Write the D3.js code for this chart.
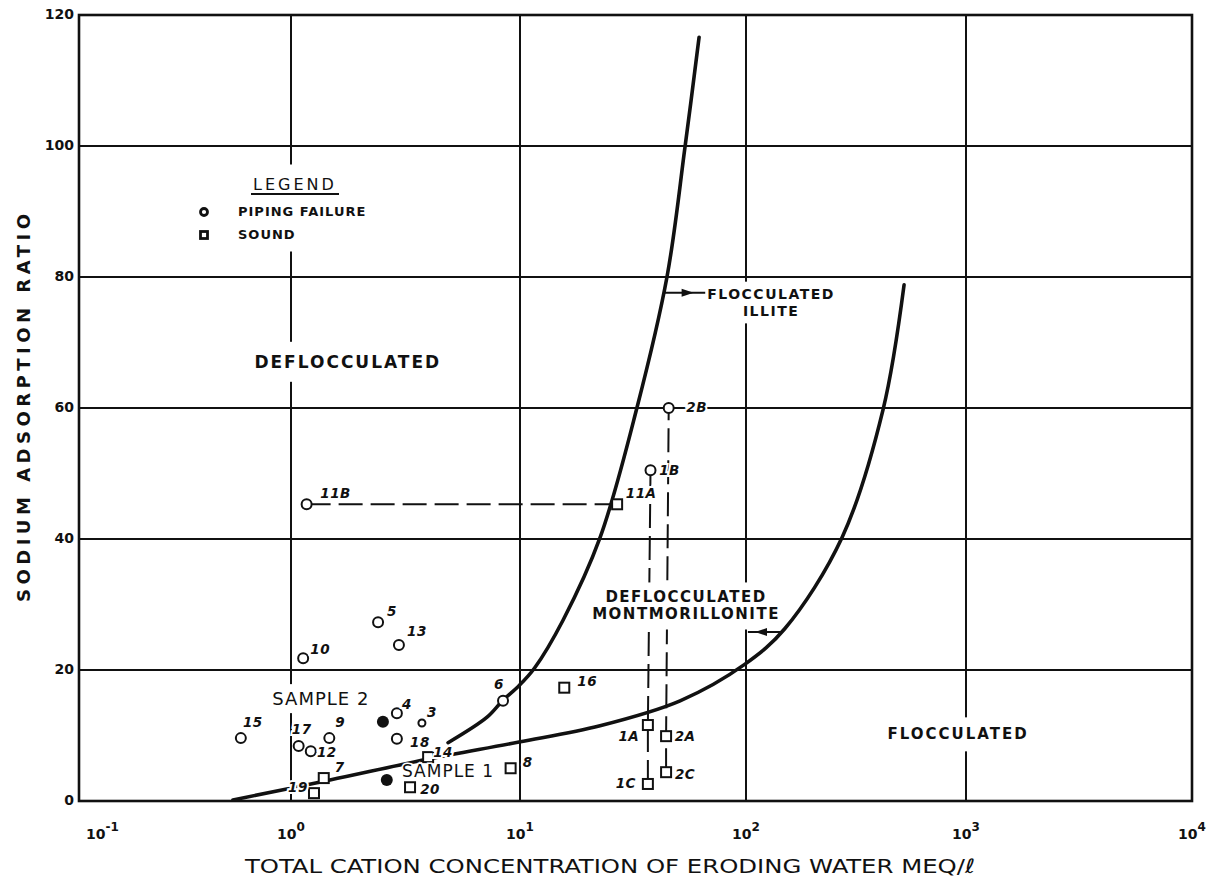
<!DOCTYPE html>
<html>
<head>
<meta charset="utf-8">
<script src="https://cdn.jsdelivr.net/npm/d3@7"></script>
<style>
  body { margin: 0; background: #fff; }
  svg { display: block; }
  text { font-family: "DejaVu Sans", sans-serif; fill: #111; }
</style>
</head>
<body>
<svg id="chart"></svg>
<script>
const WIDTH = 1226;
const HEIGHT = 894;

// piping failure points (open circles)
const failNames = ["5", "13", "10", "6", "4", "3", "15", "9", "17", "12", "18", "11B", "1B", "2B"];
const failX = [2.40, 2.96, 1.13, 8.43, 2.90, 3.73, 0.58, 1.47, 1.08, 1.22, 2.90, 1.17, 37.8, 45.5];
const failY = [27.3, 23.8, 21.8, 15.3, 13.4, 11.9, 9.6, 9.6, 8.4, 7.6, 9.5, 45.3, 50.5, 60.0];

// sound points (open squares)
const soundNames = ["14", "7", "20", "19", "8", "16", "11A", "1A", "2A", "1C", "2C"];
const soundX = [3.97, 1.39, 3.31, 1.26, 9.1, 15.7, 26.9, 36.8, 44.3, 36.8, 44.3];
const soundY = [6.7, 3.5, 2.1, 1.2, 5.0, 17.3, 45.3, 11.6, 9.9, 2.6, 4.4];

// the two filled samples
const sampleNames = ["SAMPLE 1", "SAMPLE 2"];
const sampleX = [2.62, 2.52];
const sampleY = [3.2, 12.1];

// dashed links between related points
const links = [["11B", "11A"], ["1C", "1A", "1B"], ["2C", "2A", "2B"]];

// boundary curves
const illiteX = [4.85, 7.18, 8.43, 9.9, 11.6, 15.5, 22.6, 32.9, 44.7, 53.7, 62.0];
const illiteY = [8.9, 12.8, 15.4, 17.6, 20.3, 27.6, 40.2, 60.0, 80.0, 99.8, 116.6];
const montX = [0.532, 1.48, 3.97, 9.9, 22.6, 51.1, 99, 150, 273, 420, 523];
const montY = [0.15, 3.2, 6.4, 9.0, 11.5, 15.3, 20.9, 26.3, 40.2, 59.8, 78.8];

// axes
const xTicks = [0.1, 1, 10, 100, 1000, 10000];
const xTickExp = ["-1", "0", "1", "2", "3", "4"];
const yTicks = [0, 20, 40, 60, 80, 100, 120];

// label placement (pixels from the mark)
const labelOffset = {
  "5": [14, -10], "13": [18, -13], "10": [17, -8], "6": [-4, -16], "4": [10, -8],
  "3": [10, -10], "15": [12, -15], "9": [11, -15], "17": [3, -16], "12": [16, 2],
  "18": [23, 4], "11B": [29, -10], "1B": [19, 1], "2B": [28, 0],
  "14": [15, -4], "7": [16, -10], "20": [20, 3], "19": [-16, -5], "8": [17, -5],
  "16": [23, -6], "11A": [24, -10], "1A": [-19, 12], "2A": [19, 1], "1C": [-22, 0], "2C": [19, 3]
};

const svg = d3.select('#chart').attr('width', WIDTH).attr('height', HEIGHT);

const x = d3.scaleLog()
  .domain(xTicks)
  .range([79, 291, 520, 746, 966, 1192]);
const y = d3.scaleLinear().domain([0, 120]).range([801, 15]);

const gridLayer = svg.append('g');
const dashLayer = svg.append('g');
const textLayer = svg.append('g');
const curveLayer = svg.append('g');
const pointLayer = svg.append('g');
const labelLayer = svg.append('g');

// grid
gridLayer.selectAll('.vg').data(xTicks.slice(1, -1)).enter().append('line')
  .attr('x1', d => x(d)).attr('x2', d => x(d))
  .attr('y1', y(0)).attr('y2', y(120))
  .attr('stroke', '#111').attr('stroke-width', 2);
gridLayer.selectAll('.hg').data(yTicks.slice(1, -1)).enter().append('line')
  .attr('x1', x(0.1)).attr('x2', x(10000))
  .attr('y1', d => y(d)).attr('y2', d => y(d))
  .attr('stroke', '#111').attr('stroke-width', 2);
gridLayer.append('rect')
  .attr('x', x(0.1)).attr('y', y(120))
  .attr('width', x(10000) - x(0.1)).attr('height', y(0) - y(120))
  .attr('fill', 'none').attr('stroke', '#111').attr('stroke-width', 2.6);

// tick labels
gridLayer.selectAll('.yt').data(yTicks).enter().append('text')
  .attr('x', x(0.1) - 5).attr('y', d => y(d))
  .attr('text-anchor', 'end').attr('dominant-baseline', 'middle')
  .style('font-size', '14px').style('font-weight', 'bold')
  .text(d => d);

const xt = gridLayer.selectAll('.xt').data(xTicks).enter().append('text')
  .attr('x', (d, i) => i === 0 ? x(d) + 7 : x(d))
  .attr('y', 839)
  .attr('text-anchor', (d, i) => i === 0 ? 'start' : 'middle')
  .style('font-size', '14px').style('font-weight', 'bold');
xt.append('tspan').text('10');
xt.append('tspan').attr('dy', -8).style('font-size', '12px').text((d, i) => xTickExp[i]);

// axis titles
svg.append('text')
  .attr('x', 610).attr('y', 873)
  .attr('text-anchor', 'middle')
  .attr('textLength', 730).attr('lengthAdjust', 'spacingAndGlyphs')
  .style('font-family', '"DejaVu Sans Condensed", "Liberation Sans Narrow", sans-serif')
  .style('font-size', '20px')
  .text('TOTAL CATION CONCENTRATION OF ERODING WATER MEQ/ℓ');

svg.append('text')
  .attr('transform', 'translate(30,408) rotate(-90)')
  .attr('text-anchor', 'middle')
  .attr('textLength', 388).attr('lengthAdjust', 'spacing')
  .style('font-size', '18px').style('font-weight', 'bold')
  .text('SODIUM ADSORPTION RATIO');

// lookup for points by name
const pos = {};
failNames.forEach((n, i) => pos[n] = [failX[i], failY[i]]);
soundNames.forEach((n, i) => pos[n] = [soundX[i], soundY[i]]);

// dashed links
const lineGen = d3.line().x(d => x(d[0])).y(d => y(d[1]));
dashLayer.selectAll('path').data(links).enter().append('path')
  .attr('d', d => lineGen(d.map(n => pos[n])))
  .attr('fill', 'none').attr('stroke', '#111')
  .attr('stroke-width', 2).attr('stroke-dasharray', '24,8');

// region labels with white knockouts
function knockout(g, px, py) {
  const b = g.node().getBBox();
  g.insert('rect', ':first-child')
    .attr('x', b.x - px).attr('y', b.y - py)
    .attr('width', b.width + 2 * px).attr('height', b.height + 2 * py)
    .attr('fill', '#fff');
}

function regionText(lines, xv, size, weight, spacing, px, py) {
  const g = textLayer.append('g');
  lines.forEach(l => {
    g.append('text')
      .attr('x', x(xv)).attr('y', y(l.y))
      .attr('text-anchor', 'middle').attr('dominant-baseline', 'middle')
      .style('font-size', size + 'px').style('font-weight', weight)
      .style('letter-spacing', spacing + 'px')
      .text(l.t);
  });
  knockout(g, px, py);
  return g;
}

regionText([{ t: 'DEFLOCCULATED', y: 66.9 }], 1.77, 17, 'bold', 2, 4, 10);
regionText([{ t: 'FLOCCULATED', y: 10.1 }], 920, 15, 'bold', 2, 4, 8);
regionText([{ t: 'FLOCCULATED', y: 77.3 }, { t: 'ILLITE', y: 74.6 }], 130, 14, 'bold', 1.5, 3, 4);
regionText([{ t: 'DEFLOCCULATED', y: 31.0 }, { t: 'MONTMORILLONITE', y: 28.4 }], 54.3, 15, 'bold', 1.5, 3, 6);
regionText([{ t: sampleNames[1], y: 15.4 }], 1.35, 18, 'normal', 1, 2, 4);

// legend
const legend = textLayer.append('g').attr('transform', 'translate(204,185)');
legend.append('text')
  .attr('x', 91).attr('y', 0)
  .attr('text-anchor', 'middle').attr('dominant-baseline', 'middle')
  .style('font-size', '16px').style('letter-spacing', '3px')
  .text('LEGEND');
legend.append('line')
  .attr('x1', 47).attr('x2', 135).attr('y1', 9).attr('y2', 9)
  .attr('stroke', '#111').attr('stroke-width', 2);
legend.append('circle').attr('cx', 0).attr('cy', 27).attr('r', 3.5)
  .attr('fill', 'none').attr('stroke', '#111').attr('stroke-width', 2.8);
legend.append('rect').attr('x', -3.5).attr('y', 46.5).attr('width', 7).attr('height', 7)
  .attr('fill', 'none').attr('stroke', '#111').attr('stroke-width', 2.8);
legend.append('text').attr('x', 34).attr('y', 27).attr('dominant-baseline', 'middle')
  .style('font-size', '13px').style('font-weight', 'bold').style('letter-spacing', '1px')
  .text('PIPING FAILURE');
legend.append('text').attr('x', 34).attr('y', 50).attr('dominant-baseline', 'middle')
  .style('font-size', '13px').style('font-weight', 'bold').style('letter-spacing', '1px')
  .text('SOUND');
knockout(legend, 10, 10);

// boundary curves
const curveGen = d3.line().x(d => x(d[0])).y(d => y(d[1])).curve(d3.curveCatmullRom.alpha(0.5));
curveLayer.append('path')
  .attr('d', curveGen(illiteX.map((v, i) => [v, illiteY[i]])))
  .attr('fill', 'none').attr('stroke', '#111').attr('stroke-width', 3.6).attr('stroke-linecap', 'round');
curveLayer.append('path')
  .attr('d', curveGen(montX.map((v, i) => [v, montY[i]])))
  .attr('fill', 'none').attr('stroke', '#111').attr('stroke-width', 3.6).attr('stroke-linecap', 'round');

// arrows pointing at the curves
const arrows = [
  { yv: 77.6, from: 43.4, to: 66, dir: 1 },
  { yv: 25.8, from: 102, to: 146, dir: -1 }
];
arrows.forEach(a => {
  const x0 = x(a.from), x1 = x(a.to), yy = y(a.yv);
  curveLayer.append('line').attr('x1', x0).attr('x2', x1).attr('y1', yy).attr('y2', yy)
    .attr('stroke', '#111').attr('stroke-width', 2);
  const mid = (x0 + x1) / 2 + (a.dir > 0 ? 2 : -3);
  const tip = mid + a.dir * 7, base = mid - a.dir * 5;
  curveLayer.append('path')
    .attr('d', `M${tip},${yy}L${base},${yy - 4}L${base},${yy + 4}Z`)
    .attr('fill', '#111');
});

// points
const failData = failNames.map((n, i) => ({ n, x: failX[i], y: failY[i] }));
const soundData = soundNames.map((n, i) => ({ n, x: soundX[i], y: soundY[i] }));

pointLayer.selectAll('.fail').data(failData).enter().append('circle')
  .attr('cx', d => x(d.x)).attr('cy', d => y(d.y))
  .attr('r', d => d.n === '3' ? 3.5 : 5)
  .attr('fill', '#fff').attr('stroke', '#111').attr('stroke-width', 2);

pointLayer.selectAll('.sound').data(soundData).enter().append('rect')
  .attr('x', d => x(d.x) - 5).attr('y', d => y(d.y) - 5)
  .attr('width', 10).attr('height', 10)
  .attr('fill', '#fff').attr('stroke', '#111').attr('stroke-width', 2);

pointLayer.selectAll('.sample').data(sampleX).enter().append('circle')
  .attr('cx', d => x(d)).attr('cy', (d, i) => y(sampleY[i]))
  .attr('r', 6).attr('fill', '#111');

// point labels
labelLayer.selectAll('text').data(failData.concat(soundData)).enter().append('text')
  .attr('x', d => x(d.x) + labelOffset[d.n][0])
  .attr('y', d => y(d.y) + labelOffset[d.n][1])
  .attr('text-anchor', 'middle').attr('dominant-baseline', 'middle')
  .style('font-size', '13.5px').style('font-weight', 'bold').style('font-style', 'italic')
  .style('letter-spacing', '0.5px')
  .attr('stroke', '#fff').attr('stroke-width', 4).attr('paint-order', 'stroke')
  .text(d => d.n);

labelLayer.append('text')
  .attr('x', x(4.85)).attr('y', y(4.4))
  .attr('text-anchor', 'middle').attr('dominant-baseline', 'middle')
  .style('font-size', '17px').style('letter-spacing', '1px')
  .attr('stroke', '#fff').attr('stroke-width', 3).attr('paint-order', 'stroke')
  .text(sampleNames[0]);
</script>
</body>
</html>
